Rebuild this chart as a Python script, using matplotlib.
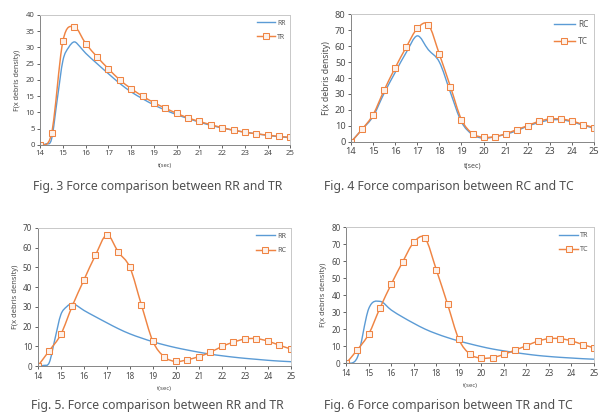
import numpy as np
import matplotlib.pyplot as plt
from matplotlib.path import Path
from matplotlib.patches import PathPatch
from matplotlib.lines import Line2D

# time axis (markers every 0.5 s)
t = [14, 14.5, 15, 15.5, 16, 16.5, 17, 17.5, 18, 18.5, 19, 19.5,
     20, 20.5, 21, 21.5, 22, 22.5, 23, 23.5, 24, 24.5, 25]
# RR is read a bit finer around the steep rise
t_rr = [14, 14.25, 14.5, 14.75, 15, 15.25, 15.5, 15.75, 16, 16.5, 17, 17.5,
        18, 18.5, 19, 19.5, 20, 20.5, 21, 21.5, 22, 22.5, 23, 23.5, 24, 24.5, 25]

rr = [0, 0.3, 1.8, 14, 26, 30, 31.7, 30.2, 28.2, 25, 21.9, 18.9,
      16.3, 14.2, 12.3, 10.7, 9.3, 8.1, 7.0, 6.0, 5.2, 4.5, 3.9, 3.4, 2.9, 2.5, 2.2]
tr = [0, 3.5, 32, 36.3, 31.2, 27.1, 23.4, 20, 17.3, 15, 13, 11.3,
      9.7, 8.3, 7.2, 6.2, 5.3, 4.5, 3.9, 3.4, 3.0, 2.6, 2.3]
rc = [0, 7.8, 16, 30.5, 43.5, 56, 66.4, 57.7, 50, 31, 12.5, 4.6,
      2.3, 3.2, 4.8, 7, 9.9, 12.1, 13.7, 13.9, 12.6, 10.5, 8.6]
tc = [0, 7.9, 17.1, 32.4, 46.4, 59.3, 71, 73.4, 54.9, 34.6, 14, 5.2,
      2.9, 3.3, 5.1, 7.7, 10.2, 12.9, 14.4, 14.4, 13.1, 10.9, 9]

captions = ['Fig. 3 Force comparison between RR and TR',
            'Fig. 4 Force comparison between RC and TC',
            'Fig. 5. Force comparison between RR and TR',
            'Fig. 6 Force comparison between TR and TC']

BLUE = '#5b9bd5'
ORANGE = '#ef8443'


def smooth(ax, x, y, color, lw):
    # excel-like smoothed line: cubic bezier through the data points
    x = np.asarray(x, float)
    y = np.asarray(y, float)
    verts = [(x[0], y[0])]
    codes = [Path.MOVETO]
    n = len(x)
    for i in range(n - 1):
        x0, y0 = (x[i - 1], y[i - 1]) if i > 0 else (x[i], y[i])
        x3, y3 = (x[i + 2], y[i + 2]) if i + 2 < n else (x[i + 1], y[i + 1])
        c1 = (x[i] + (x[i + 1] - x0) / 6, y[i] + (y[i + 1] - y0) / 6)
        c2 = (x[i + 1] - (x3 - x[i]) / 6, y[i + 1] - (y3 - y[i]) / 6)
        verts += [c1, c2, (x[i + 1], y[i + 1])]
        codes += [Path.CURVE4] * 3
    ax.add_patch(PathPatch(Path(verts, codes), facecolor='none',
                           edgecolor=color, lw=lw, capstyle='round'))


def draw(rect, blue, orange, ymax, ystep, fs):
    ax = fig.add_axes(rect)
    bx, by, bname = blue
    ox, oy, oname = orange
    smooth(ax, bx, by, BLUE, 1.0)
    smooth(ax, ox, oy, ORANGE, 1.05)
    ax.plot(ox, oy, 's', ms=3.9, mfc='#fdf1ea', mec=ORANGE, mew=0.75)
    ax.set_xlim(14, 25)
    ax.set_ylim(0, ymax)
    ax.set_xticks(range(14, 26))
    ax.set_yticks(range(0, ymax + 1, ystep))
    ax.tick_params(labelsize=fs, colors='#4a4a4a', length=2, width=0.6, pad=2)
    for s in ['left', 'bottom']:
        ax.spines[s].set_color('#868686')
        ax.spines[s].set_linewidth(0.7)
    for s in ['top', 'right']:
        ax.spines[s].set_color('#c8c8c8')
        ax.spines[s].set_linewidth(0.7)
    ax.set_ylabel('F(x debris density)', fontsize=fs - 0.4, color='#4a4a4a', labelpad=3)
    ax.set_xlabel('t(sec)', fontsize=fs - 1.5, color='#4a4a4a', labelpad=4)
    handles = [Line2D([], [], color=BLUE, lw=1.0),
               Line2D([], [], color=ORANGE, lw=1.05, marker='s', ms=3.9,
                      mfc='#fdf1ea', mec=ORANGE, mew=0.75)]
    leg = ax.legend(handles, [bname, oname], loc='upper right', frameon=False,
                    fontsize=fs - 0.6, handlelength=2.6, labelspacing=1.0,
                    borderaxespad=0.3, handletextpad=0.3)
    for txt in leg.get_texts():
        txt.set_color('#595959')
    return ax


plt.rcParams['font.family'] = ['Noto Sans', 'DejaVu Sans']
fig = plt.figure(figsize=(6, 4.15), dpi=100)

draw([0.067, 0.651, 0.417, 0.313], (t_rr, rr, 'RR'), (t, tr, 'TR'), 40, 5, 5.6)
draw([0.585, 0.658, 0.405, 0.308], (t, rc, 'RC'), (t, tc, 'TC'), 80, 10, 6.6)
draw([0.063, 0.118, 0.422, 0.333], (t_rr, rr, 'RR'), (t, rc, 'RC'), 70, 10, 5.8)
draw([0.577, 0.125, 0.413, 0.328], (t, tr, 'TR'), (t, tc, 'TC'), 80, 10, 5.8)

cap = dict(ha='center', va='center', fontsize=8.8, color='#505050')
fig.text(0.262, 0.550, captions[0], **cap)
fig.text(0.748, 0.550, captions[1], **cap)
fig.text(0.262, 0.023, captions[2], **cap)
fig.text(0.748, 0.023, captions[3], **cap)

fig.savefig('out.png', dpi=100)
